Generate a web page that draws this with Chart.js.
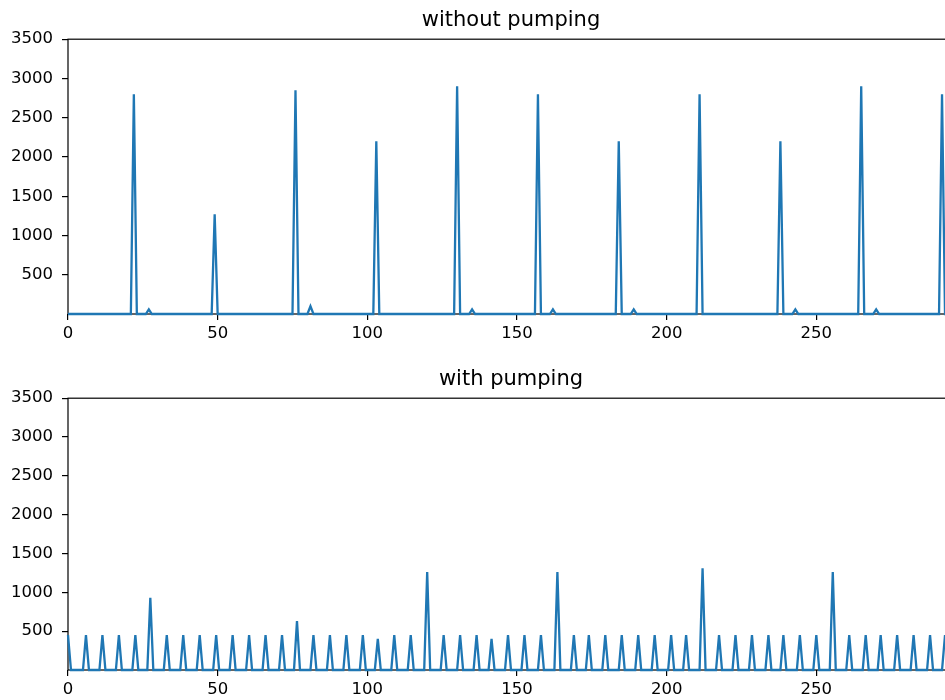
<!DOCTYPE html>
<html lang="en">
<head>
    <meta charset="UTF-8">
    <title>pumping</title>
    <script src="https://cdn.jsdelivr.net/npm/chart.js"></script>
    <style>
        body{
            margin: 0;
            background: #fff;
            width: 945px;
            height: 700px;
            overflow: hidden;
            position: relative;
        }
        .plot{
            position: absolute;
            left: 0;
            width: 960px;
        }
    </style>
</head>
<body>
    <div class="plot" style="top:0px"><canvas id="grafik-atas" width="960" height="345"></canvas></div>
    <div class="plot" style="top:359px"><canvas id="grafik-bawah" width="960" height="345"></canvas></div>

    <script>
        // without pumping: big spikes + small bumps
        const topPeakX = [22, 49, 76, 103, 130, 157, 184, 211, 238, 265, 292]
        const topPeakY = [2800, 1270, 2850, 2200, 2900, 2800, 2200, 2800, 2200, 2900, 2800]
        const topBumpX = [27, 81, 135, 162, 189, 243, 270]
        const topBumpY = [60, 100, 60, 60, 60, 60, 60]

        // with pumping
        const botPeakX = [0, 6, 11.5, 17, 22.5, 27.5, 33, 38.5, 44, 49.5, 55, 60.5, 66, 71.5, 76.5, 82, 87.5, 93,
                          98.5, 103.5, 109, 114.5, 120, 125.5, 131, 136.5, 141.5, 147, 152.5, 158, 163.5, 169, 174,
                          179.5, 185, 190.5, 196, 201.5, 206.5, 212, 217.5, 223, 228.5, 234, 239, 244.5, 250, 255.5,
                          261, 266.5, 271.5, 277, 282.5, 288, 293]
        const botPeakY = [450, 450, 450, 450, 450, 930, 450, 450, 450, 450, 450, 450, 450, 450, 630, 450, 450, 450,
                          450, 400, 450, 450, 1260, 450, 450, 450, 400, 450, 450, 450, 1260, 450, 450,
                          450, 450, 450, 450, 450, 450, 1310, 450, 450, 450, 450, 450, 450, 450, 1260,
                          450, 450, 450, 450, 450, 450, 450]

        const xTicks = [0, 50, 100, 150, 200, 250]
        const yTicks = [500, 1000, 1500, 2000, 2500, 3000, 3500]
        const xMax = 296
        const yMax = 3500

        function spikes(xs, ys){
            var pts = []
            xs.forEach(function(x, i){
                if (x - 1 >= 0) pts.push({x: x - 1, y: 0})
                pts.push({x: x, y: ys[i]})
                if (x + 1 <= xMax) pts.push({x: x + 1, y: 0})
            })
            pts.sort(function(a, b){ return a.x - b.x })
            if (pts[0].x > 0) pts.unshift({x: 0, y: 0})
            if (pts[pts.length - 1].x < xMax) pts.push({x: xMax, y: 0})
            return pts
        }

        const kotak = {
            id: 'kotak',
            beforeDatasetsDraw(chart){
                const a = chart.chartArea
                const ctx = chart.ctx
                ctx.save()
                ctx.strokeStyle = '#000'
                ctx.lineWidth = 1.2
                ctx.strokeRect(a.left, a.top, a.right - a.left, a.bottom - a.top)
                ctx.restore()
            }
        }

        function buatGrafik(id, judul, data, tinggiX){
            const tickFont = {family: 'DejaVu Sans', size: 16.5}
            return new Chart(document.getElementById(id), {
                type: 'line',
                data: {
                    datasets: [{
                        data: data,
                        borderColor: '#1f77b4',
                        borderWidth: 2.3,
                        pointRadius: 0,
                        tension: 0,
                        fill: false,
                        clip: false
                    }]
                },
                plugins: [kotak],
                options: {
                    responsive: false,
                    animation: false,
                    devicePixelRatio: 1,
                    layout: { padding: {left: 0, right: 6, top: 0, bottom: 0} },
                    plugins: {
                        legend: { display: false },
                        tooltip: { enabled: false },
                        title: {
                            display: true,
                            fullSize: false,
                            text: judul,
                            color: '#000',
                            font: {family: 'DejaVu Sans', size: 21, weight: 'normal'},
                            padding: {top: 8, bottom: 6}
                        }
                    },
                    scales: {
                        x: {
                            type: 'linear',
                            min: 0,
                            max: xMax,
                            afterBuildTicks: function(s){ s.ticks = xTicks.map(v => ({value: v})) },
                            afterFit: function(s){ s.height = tinggiX },
                            border: { display: false },
                            grid: { drawOnChartArea: false, drawTicks: true, tickLength: 6, color: '#000', lineWidth: 1.2 },
                            ticks: { color: '#000', font: tickFont, padding: 4, maxRotation: 0,
                                     callback: v => String(v) }
                        },
                        y: {
                            min: 0,
                            max: yMax,
                            afterBuildTicks: function(s){ s.ticks = yTicks.map(v => ({value: v})) },
                            afterFit: function(s){ s.width = 68 },
                            border: { display: false },
                            grid: { drawOnChartArea: false, drawTicks: true, tickLength: 6, color: '#000', lineWidth: 1.2 },
                            ticks: { color: '#000', font: tickFont, padding: 9,
                                     callback: v => String(v) }
                        }
                    }
                }
            })
        }

        const dataAtas = spikes(topPeakX.concat(topBumpX), topPeakY.concat(topBumpY))
        const dataBawah = spikes(botPeakX, botPeakY)

        buatGrafik('grafik-atas', 'without pumping', dataAtas, 31)
        buatGrafik('grafik-bawah', 'with pumping', dataBawah, 34)
    </script>
</body>
</html>
